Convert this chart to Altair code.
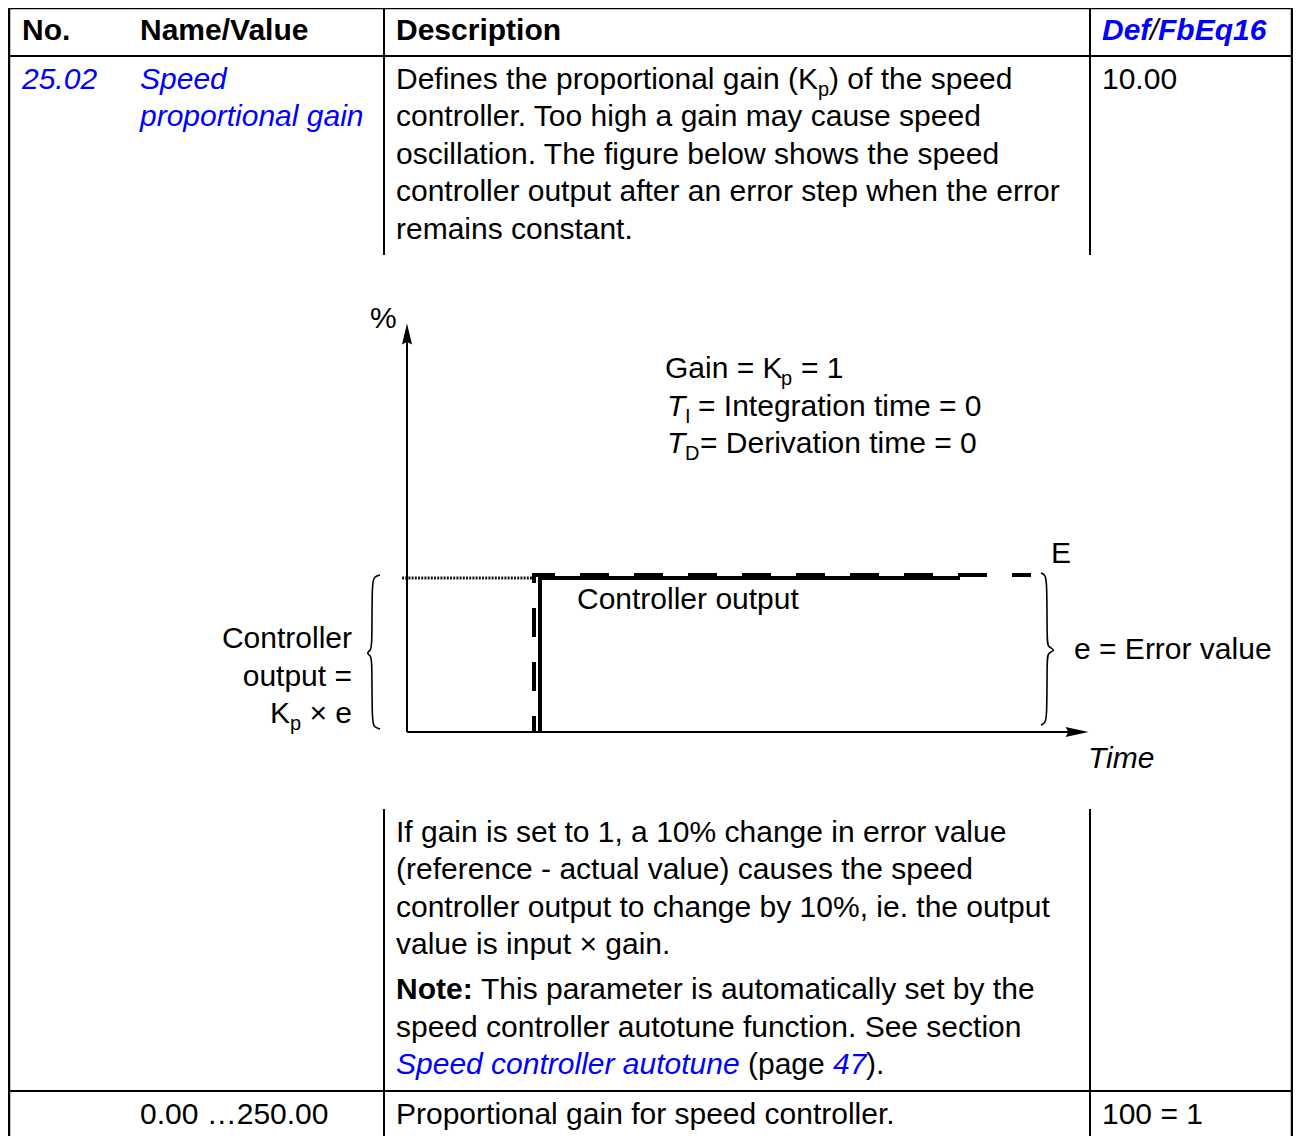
import altair as alt
import pandas as pd

FONT = "Liberation Sans"
BLUE = "#0000ff"
BLACK = "#000000"
FS = 30
SUB = 20

# ---------------- table grid (page pixel units) ----------------
grid_x1 = [9, 9, 9, 1292, 384, 1090, 384, 1090, 9]
grid_y1 = [8, 56, 8, 8, 8, 8, 809, 809, 1091]
grid_x2 = [1292, 1292, 9, 1292, 384, 1090, 384, 1090, 1292]
grid_y2 = [8, 56, 1136, 1136, 255, 255, 1136, 1136, 1091]
grid_w = [2.5, 2, 2.5, 2.5, 2, 2, 2, 2, 2]

# ---------------- diagram axes ----------------
axis_x1 = [407, 407]
axis_y1 = [340, 732]
axis_x2 = [407, 1070]
axis_y2 = [732, 732]

# arrow heads
arrow_x = [407, 1077]
arrow_y = [334, 732]
arrow_shape = ["M0,-1L0.48,1L0,0.75L-0.48,1Z", "M1,0L-1,-0.43L-0.75,0L-1,0.43Z"]
arrow_size = [441, 529]

# hatched previous-output line
hatch_x = [402, 533]
hatch_y = [578, 578]

# error step E (dashed)
err_x = [534, 534, 1031]
err_y = [732, 575, 575]

# controller output step (solid)
out_x = [540, 540, 960]
out_y = [732, 578, 578]

# braces
lbrace_x = [380, 374, 372, 372, 371, 366, 371, 372, 372, 374, 380]
lbrace_y = [575, 577, 582, 645, 650, 653, 656, 661, 722, 727, 729]
rbrace_x = [1041, 1045, 1047, 1047, 1048, 1056, 1048, 1047, 1047, 1045, 1041]
rbrace_y = [573, 575, 580, 642, 647, 650, 653, 658, 718, 723, 725]

# ---------------- texts ----------------
# (text, x, y_baseline, size, weight, style, color, align)
texts = [
    ("No.", 22, 40, FS, "bold", "normal", BLACK, "left"),
    ("Name/Value", 140, 40, FS, "bold", "normal", BLACK, "left"),
    ("Description", 396, 40, FS, "bold", "normal", BLACK, "left"),
    ("Def", 1102, 40, FS, "bold", "italic", BLUE, "left"),
    ("/", 1150, 40, FS, "normal", "italic", BLACK, "left"),
    ("FbEq16", 1158, 40, FS, "bold", "italic", BLUE, "left"),

    ("25.02", 22, 89, FS, "normal", "italic", BLUE, "left"),
    ("Speed", 140, 89, FS, "normal", "italic", BLUE, "left"),
    ("proportional gain", 140, 126, FS, "normal", "italic", BLUE, "left"),
    ("Defines the proportional gain (K", 396, 89, FS, "normal", "normal", BLACK, "left"),
    ("p", 818, 96, SUB, "normal", "normal", BLACK, "left"),
    (") of the speed", 829, 89, FS, "normal", "normal", BLACK, "left"),
    ("controller. Too high a gain may cause speed", 396, 126, FS, "normal", "normal", BLACK, "left"),
    ("oscillation. The figure below shows the speed", 396, 164, FS, "normal", "normal", BLACK, "left"),
    ("controller output after an error step when the error", 396, 201, FS, "normal", "normal", BLACK, "left"),
    ("remains constant.", 396, 239, FS, "normal", "normal", BLACK, "left"),
    ("10.00", 1102, 89, FS, "normal", "normal", BLACK, "left"),

    ("%", 370, 328, FS, "normal", "normal", BLACK, "left"),
    ("Gain = K", 665, 378, FS, "normal", "normal", BLACK, "left"),
    ("p", 781, 385, SUB, "normal", "normal", BLACK, "left"),
    ("= 1", 801, 378, FS, "normal", "normal", BLACK, "left"),
    ("T", 667, 416, FS, "normal", "italic", BLACK, "left"),
    ("I", 685, 423, SUB, "normal", "normal", BLACK, "left"),
    ("= Integration time = 0", 698, 416, FS, "normal", "normal", BLACK, "left"),
    ("T", 667, 453, FS, "normal", "italic", BLACK, "left"),
    ("D", 685, 460, SUB, "normal", "normal", BLACK, "left"),
    ("= Derivation time = 0", 700, 453, FS, "normal", "normal", BLACK, "left"),
    ("E", 1051, 563, FS, "normal", "normal", BLACK, "left"),
    ("Controller output", 577, 609, FS, "normal", "normal", BLACK, "left"),
    ("e = Error value", 1074, 659, FS, "normal", "normal", BLACK, "left"),
    ("Controller", 352, 648, FS, "normal", "normal", BLACK, "right"),
    ("output =", 352, 686, FS, "normal", "normal", BLACK, "right"),
    ("\u00d7 e", 352, 723, FS, "normal", "normal", BLACK, "right"),
    ("p", 301, 730, SUB, "normal", "normal", BLACK, "right"),
    ("K", 290, 723, FS, "normal", "normal", BLACK, "right"),
    ("Time", 1088, 768, FS, "normal", "italic", BLACK, "left"),

    ("If gain is set to 1, a 10% change in error value", 396, 842, FS, "normal", "normal", BLACK, "left"),
    ("(reference - actual value) causes the speed", 396, 879, FS, "normal", "normal", BLACK, "left"),
    ("controller output to change by 10%, ie. the output", 396, 917, FS, "normal", "normal", BLACK, "left"),
    ("value is input \u00d7 gain.", 396, 954, FS, "normal", "normal", BLACK, "left"),
    ("Note:", 396, 999, FS, "bold", "normal", BLACK, "left"),
    ("This parameter is automatically set by the", 481, 999, FS, "normal", "normal", BLACK, "left"),
    ("speed controller autotune function. See section", 396, 1037, FS, "normal", "normal", BLACK, "left"),
    ("Speed controller autotune", 396, 1074, FS, "normal", "italic", BLUE, "left"),
    ("(page", 748, 1074, FS, "normal", "normal", BLACK, "left"),
    ("47", 833, 1074, FS, "normal", "italic", BLUE, "left"),
    (").", 866, 1074, FS, "normal", "normal", BLACK, "left"),

    ("0.00 \u2026250.00", 140, 1124, FS, "normal", "normal", BLACK, "left"),
    ("Proportional gain for speed controller.", 396, 1124, FS, "normal", "normal", BLACK, "left"),
    ("100 = 1", 1102, 1124, FS, "normal", "normal", BLACK, "left"),
]

W, H = 1285, 1128
XS = alt.Scale(domain=[8, 8 + W], nice=False, zero=False)
YS = alt.Scale(domain=[8, 8 + H], nice=False, zero=False, reverse=True)


def X(f="x"):
    return alt.X(f"{f}:Q", scale=XS, axis=None)


def Y(f="y"):
    return alt.Y(f"{f}:Q", scale=YS, axis=None)


layers = []

grid = pd.DataFrame({"x": grid_x1, "y": grid_y1, "x2": grid_x2, "y2": grid_y2, "w": grid_w})
axes = pd.DataFrame({"x": axis_x1, "y": axis_y1, "x2": axis_x2, "y2": axis_y2, "w": [2, 2]})
for df in (grid, axes):
    layers.append(
        alt.Chart(df).mark_rule(color="black").encode(
            x=X(), y=Y(), x2="x2:Q", y2="y2:Q",
            strokeWidth=alt.StrokeWidth("w:Q", scale=None),
        )
    )

arrows = pd.DataFrame({"x": arrow_x, "y": arrow_y})
for i in range(len(arrow_x)):
    layers.append(
        alt.Chart(arrows.iloc[[i]]).mark_point(
            shape=arrow_shape[i], filled=True, color="black", size=arrow_size[i], opacity=1, strokeWidth=0
        ).encode(x=X(), y=Y())
    )


def path_layer(xs, ys, **kw):
    df = pd.DataFrame({"x": xs, "y": ys, "i": list(range(len(xs)))})
    return alt.Chart(df).mark_line(color="black", **kw).encode(
        x=X(), y=Y(), order=alt.Order("i:Q")
    )


layers.append(path_layer(hatch_x, hatch_y, strokeWidth=3, strokeDash=[2, 1.2], strokeCap="butt", opacity=0.9))
layers.append(path_layer(err_x, err_y, strokeWidth=4, strokeDash=[29, 25], strokeDashOffset=13,
                         strokeCap="butt", strokeJoin="miter"))
layers.append(path_layer(out_x, out_y, strokeWidth=4, strokeJoin="miter", strokeCap="butt"))
layers.append(path_layer(lbrace_x, lbrace_y, strokeWidth=1.6, interpolate="basis"))
layers.append(path_layer(rbrace_x, rbrace_y, strokeWidth=1.6, interpolate="basis"))

tdf = pd.DataFrame(texts, columns=["text", "x", "y", "size", "weight", "style", "color", "align"])
for (weight, style, align), g in tdf.groupby(["weight", "style", "align"]):
    layers.append(
        alt.Chart(g).mark_text(
            font=FONT, fontWeight=weight, fontStyle=style, align=align, baseline="alphabetic"
        ).encode(
            x=X(), y=Y(), text="text:N",
            size=alt.Size("size:Q", scale=None),
            color=alt.Color("color:N", scale=None),
        )
    )

chart = alt.layer(*layers).properties(
    width=W, height=H, padding=0,
    autosize=alt.AutoSizeParams(type="none"),
    background="white",
).configure_view(stroke=None)

chart.save("out.html", embed_options={"renderer": "svg", "actions": False})
